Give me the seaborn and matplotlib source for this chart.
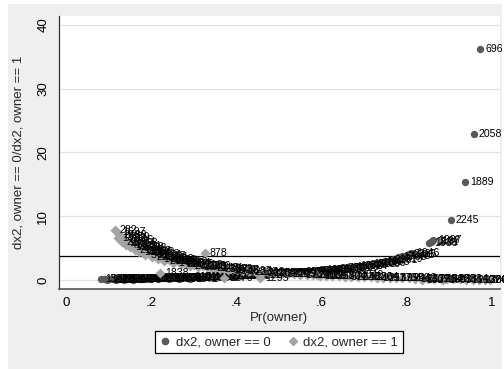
import matplotlib
matplotlib.use("Agg")
import matplotlib.pyplot as plt
from matplotlib.patches import Rectangle
from matplotlib.lines import Line2D
import seaborn as sns
import pandas as pd

# owner == 0: predicted probability, Pearson chi2 change, observation id
p0 = [0.080, 0.090, 0.100, 0.110, 0.120, 0.130, 0.140, 0.150, 0.160, 0.170,
      0.180, 0.190, 0.200, 0.210, 0.220, 0.230, 0.240, 0.250, 0.260, 0.270,
      0.280, 0.290, 0.300, 0.310, 0.320, 0.330, 0.340, 0.350, 0.360, 0.370,
      0.380, 0.390, 0.400, 0.410, 0.420, 0.430, 0.440, 0.450, 0.460, 0.470,
      0.480, 0.490, 0.500, 0.510, 0.520, 0.530, 0.540, 0.550, 0.560, 0.570,
      0.580, 0.590, 0.600, 0.610, 0.620, 0.630, 0.640, 0.650, 0.660, 0.670,
      0.680, 0.690, 0.700, 0.710, 0.720, 0.730, 0.740, 0.750, 0.760, 0.770,
      0.780, 0.790, 0.800, 0.805, 0.810, 0.852, 0.856, 0.860, 0.863, 0.904,
      0.938, 0.958, 0.9725,
      0.095, 0.115, 0.135, 0.155, 0.175, 0.195, 0.215, 0.240, 0.265, 0.290,
      0.315, 0.345]
dx2_0 = [0.09, 0.10, 0.11, 0.12, 0.14, 0.15, 0.16, 0.18, 0.19, 0.20,
         0.22, 0.23, 0.25, 0.27, 0.28, 0.30, 0.32, 0.33, 0.35, 0.37,
         0.39, 0.41, 0.43, 0.45, 0.47, 0.49, 0.52, 0.54, 0.56, 0.59,
         0.61, 0.64, 0.67, 0.69, 0.72, 0.75, 0.79, 0.82, 0.85, 0.89,
         0.92, 0.96, 1.00, 1.04, 1.08, 1.13, 1.17, 1.22, 1.27, 1.33,
         1.38, 1.44, 1.50, 1.56, 1.63, 1.70, 1.78, 1.86, 1.94, 2.03,
         2.13, 2.23, 2.33, 2.45, 2.57, 2.70, 2.85, 3.00, 3.17, 3.35,
         3.55, 3.76, 4.00, 4.13, 4.26, 5.75, 5.95, 6.14, 6.30, 9.40,
         15.4, 22.9, 36.2,
         0.02, 0.04, 0.05, 0.07, 0.09, 0.10, 0.12, 0.15, 0.18, 0.22,
         0.26, 0.31]
id0 = [1502, 347, 2211, 918, 1630, 75, 2390, 1184, 603, 1947,
       2275, 431, 1709, 822, 2066, 159, 1373, 2498, 714, 1856,
       390, 2137, 1049, 1612, 2583, 266, 1935, 807, 2314, 367,
       1466, 552, 2029, 1291, 98, 1788, 2450, 673, 1125, 2199,
       1834, 486, 2376, 1057, 1590, 214, 2617, 935, 1703, 1362,
       2088, 529, 1246, 1971, 385, 2533, 1417, 760, 2162, 1005,
       1679, 2324, 612, 1533, 2409, 1086, 1898, 447, 2251, 1319,
       1765, 2046, 1595, 2365, 1046, 1388, 1521, 1197, 1987, 2245,
       1889, 2058, 696,
       1128, 2356, 481, 1764, 2012, 936, 1587, 2243, 358, 1671,
       2109, 739]

# owner == 1
p1 = [0.113, 0.118, 0.123, 0.128, 0.133, 0.138, 0.143, 0.148, 0.153, 0.158,
      0.163, 0.168, 0.173, 0.178, 0.183, 0.188, 0.193, 0.198, 0.205, 0.212,
      0.219, 0.226, 0.233, 0.240, 0.248, 0.256, 0.264, 0.272, 0.280, 0.290,
      0.300, 0.310, 0.320, 0.330, 0.340, 0.350, 0.360, 0.370, 0.380, 0.390,
      0.400, 0.415, 0.430, 0.445, 0.460, 0.475, 0.490, 0.505, 0.520, 0.535,
      0.550, 0.565, 0.580, 0.595, 0.610, 0.625, 0.640, 0.655, 0.670, 0.685,
      0.700, 0.715, 0.730, 0.745, 0.760, 0.775, 0.790, 0.805, 0.820, 0.835,
      0.850, 0.865, 0.880, 0.895, 0.910, 0.925, 0.940, 0.955, 0.970, 0.985,
      0.995, 0.325, 0.219, 0.370, 0.455, 0.590, 0.680, 0.835, 0.885,
      0.120, 0.130, 0.140, 0.150, 0.160, 0.170, 0.185, 0.200, 0.215, 0.230,
      0.250, 0.270, 0.290, 0.310]
dx2_1 = [7.85, 7.45, 7.10, 6.80, 6.50, 6.25, 6.00, 5.75, 5.55, 5.33,
         5.13, 4.95, 4.78, 4.62, 4.46, 4.32, 4.18, 4.05, 3.88, 3.72,
         3.57, 3.42, 3.29, 3.17, 3.03, 2.91, 2.79, 2.68, 2.57, 2.45,
         2.33, 2.23, 2.13, 2.03, 1.94, 1.86, 1.78, 1.70, 1.63, 1.56,
         1.50, 1.41, 1.33, 1.25, 1.17, 1.11, 1.04, 0.98, 0.92, 0.87,
         0.82, 0.77, 0.72, 0.68, 0.64, 0.60, 0.56, 0.53, 0.49, 0.46,
         0.43, 0.40, 0.37, 0.34, 0.32, 0.29, 0.27, 0.24, 0.22, 0.20,
         0.18, 0.16, 0.14, 0.12, 0.10, 0.08, 0.06, 0.05, 0.03, 0.02,
         0.01, 4.20, 1.10, 0.32, 0.35, 0.75, 0.80, 0.05, 0.02,
         6.60, 6.00, 5.50, 5.10, 4.70, 4.40, 3.95, 3.60, 3.25, 3.00,
         2.70, 2.45, 2.20, 2.00]
id1 = [282, 1697, 2480, 1459, 733, 2106, 1274, 1968, 58, 2331,
       1140, 1803, 627, 2217, 1386, 2509, 904, 1652, 2174, 1027,
       1731, 316, 2398, 1563, 2011, 849, 1312, 2594, 1876, 477,
       1218, 2299, 1770, 642, 2143, 1481, 2367, 1063, 1904, 2451,
       785, 1587, 2283, 1342, 2016, 1180, 2546, 1849, 1245, 2093,
       1769, 1236, 2405, 1109, 1958, 2672, 1504, 871, 2230, 1433,
       1820, 2264, 1091, 2577, 1375, 1990, 1156, 2442, 1613, 2309,
       1721, 2664, 1942, 1203, 2588, 1814, 1660, 2127, 1369, 2003,
       2471, 878, 1838, 1276, 1295, 1812, 2049, 1527, 1693,
       1583, 2207, 419, 1935, 2146, 1302, 578, 2231, 1759, 2118,
       1467, 293, 2072, 1643]

series_names = ["dx2, owner == 0", "dx2, owner == 1"]
x_ticks = [0, 0.2, 0.4, 0.6, 0.8, 1]
x_ticklabels = ["0", ".2", ".4", ".6", ".8", "1"]
y_ticks = [0, 10, 20, 30, 40]
y_ticklabels = ["0", "10", "20", "30", "40"]
cutoff = 3.84

sns.set_theme(style="white")
plt.rcParams["font.family"] = ["Liberation Sans", "DejaVu Sans"]

C0 = "#5a5a5a"
C1 = "#a4a4a4"
W, H = 504, 369

fig = plt.figure(figsize=(W / 100, H / 100), dpi=100)
fig.patch.set_facecolor("white")
fig.patches.append(Rectangle((8 / W, 0), 494 / W, 365 / H, transform=fig.transFigure,
                             facecolor="#efefef", edgecolor="none", zorder=-10))

ax = fig.add_axes([59 / W, 1 - 289 / H, 441 / W, 273 / H])
ax.set_facecolor("white")

df0 = pd.DataFrame({"p": p0, "dx2": dx2_0, "id": id0})
df1 = pd.DataFrame({"p": p1, "dx2": dx2_1, "id": id1})

for y in y_ticks:
    ax.axhline(y, color="#e4e4e4", lw=0.9, zorder=0.5)
ax.axhline(cutoff, color="black", lw=0.9, zorder=1.5)

sns.scatterplot(data=df0, x="p", y="dx2", ax=ax, color=C0, marker="o", s=28,
                linewidth=0, legend=False, zorder=3)
for _, r in df0.iterrows():
    ax.annotate(str(int(r["id"])), (r["p"], r["dx2"]), xytext=(3.6, 0),
                textcoords="offset points", ha="left", va="center",
                fontsize=7.6, color="black", zorder=3.5)

sns.scatterplot(data=df1, x="p", y="dx2", ax=ax, color=C1, marker="D", s=26,
                linewidth=0, legend=False, zorder=4)
for _, r in df1.iterrows():
    ax.annotate(str(int(r["id"])), (r["p"], r["dx2"]), xytext=(3.6, 0),
                textcoords="offset points", ha="left", va="center",
                fontsize=7.6, color="black", zorder=4.5)

ax.set_xlim(-0.018, 1.0195)
ax.set_ylim(-1.41, 41.4)
ax.set_xticks(x_ticks)
ax.set_xticklabels(x_ticklabels)
ax.set_yticks(y_ticks)
ax.set_yticklabels(y_ticklabels, rotation=90, va="center")
ax.tick_params(axis="both", which="major", direction="out", length=4, width=0.9,
               color="#333333", labelsize=9.5, labelcolor="black")
ax.tick_params(axis="y", pad=3)
ax.tick_params(axis="x", pad=2)
ax.set_xlabel("")
ax.set_ylabel("")
for side in ["top", "right"]:
    ax.spines[side].set_visible(False)
ax.spines["left"].set_color("#333333")
ax.spines["left"].set_linewidth(0.9)
ax.spines["bottom"].set_color("#555555")
ax.spines["bottom"].set_linewidth(1.2)

fig.text(279 / W, 1 - 318 / H, "Pr(owner)", ha="center", va="center", fontsize=9.5)
fig.text(19 / W, 1 - 152 / H, "dx2, owner == 0/dx2, owner == 1", ha="center",
         va="center", rotation=90, fontsize=9.5)

handles = [Line2D([], [], linestyle="none", marker="o", markersize=4.5, color=C0),
           Line2D([], [], linestyle="none", marker="D", markersize=4.5, color=C1)]
leg = fig.legend(handles, series_names, loc="center",
                 bbox_to_anchor=(279 / W, 1 - 342 / H), ncol=2, fontsize=9.5,
                 frameon=True, fancybox=False, framealpha=1, facecolor="white",
                 edgecolor="black", handlelength=0.8, handletextpad=0.4,
                 columnspacing=1.3, borderpad=0.35)
leg.get_frame().set_linewidth(0.9)

fig.savefig("out.png", dpi=100)
